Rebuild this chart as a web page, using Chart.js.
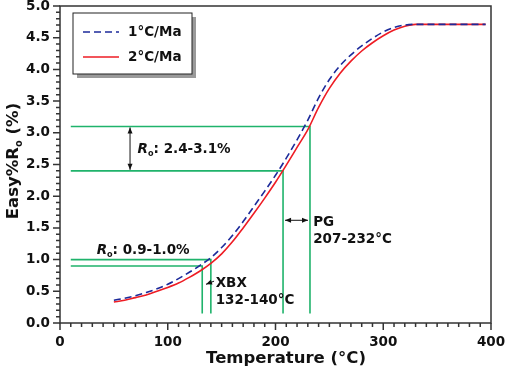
<!DOCTYPE html>
<html>
<head>
<meta charset="utf-8">
<script src="https://cdn.jsdelivr.net/npm/chart.js@4.4.0/dist/chart.umd.min.js"></script>
<title>Easy%Ro</title>
<style>
  html, body { margin: 0; padding: 0; background: #fff; }
</style>
</head>
<body>
<canvas id="myChart" width="505" height="371"></canvas>
<script>
// temperature (°C) and Easy%Ro for the two heating rates
const temps = [50,60,70,80,90,100,110,120,130,140,150,160,170,180,190,200,210,220,230,240,250,260,270,280,290,300,310,320,330,340,350,360,370,380,390,395];
const ro1 = [0.36,0.39,0.43,0.48,0.54,0.61,0.70,0.80,0.91,1.03,1.19,1.38,1.60,1.84,2.08,2.33,2.60,2.89,3.20,3.55,3.84,4.06,4.23,4.37,4.49,4.59,4.66,4.70,4.71,4.71,4.71,4.71,4.71,4.71,4.71,4.71];
const ro2 = [0.33,0.36,0.40,0.44,0.50,0.56,0.63,0.72,0.82,0.94,1.09,1.28,1.50,1.73,1.97,2.22,2.49,2.77,3.05,3.40,3.70,3.94,4.13,4.29,4.42,4.53,4.62,4.68,4.71,4.71,4.71,4.71,4.71,4.71,4.71,4.71];

// green guide lines: Ro level -> temperature cut
const roLevels = [3.1, 2.4, 1.0, 0.9];
const tempCuts = [232, 207, 140, 132];
const guideStart = 10;
const guideBottom = 0.15;

const seriesNames = ['1°C/Ma', '2°C/Ma'];

const FONT = '"DejaVu Sans"';
const GREEN = '#1fb36b';
const BLUE = '#1c2a9a';
const RED = '#ee1c24';

const datasets = [];
datasets.push({
  label: seriesNames[0],
  data: temps.map((t, i) => ({x: t, y: ro1[i]})),
  borderColor: BLUE, borderWidth: 1.6, borderDash: [7, 4],
  pointRadius: 0, cubicInterpolationMode: 'monotone', order: 1
});
datasets.push({
  label: seriesNames[1],
  data: temps.map((t, i) => ({x: t, y: ro2[i]})),
  borderColor: RED, borderWidth: 1.6,
  pointRadius: 0, cubicInterpolationMode: 'monotone', order: 2
});
for (let i = 0; i < roLevels.length; i++) {
  datasets.push({
    label: 'guide' + i,
    data: [{x: guideStart, y: roLevels[i]}, {x: tempCuts[i], y: roLevels[i]}, {x: tempCuts[i], y: guideBottom}],
    borderColor: GREEN, borderWidth: 1.6, pointRadius: 0, tension: 0, order: 3
  });
}

function arrowHead(ctx, x, y, ang) {
  ctx.beginPath();
  ctx.moveTo(x, y);
  ctx.lineTo(x - 6 * Math.cos(ang) + 2.5 * Math.sin(ang), y - 6 * Math.sin(ang) - 2.5 * Math.cos(ang));
  ctx.lineTo(x - 6 * Math.cos(ang) - 2.5 * Math.sin(ang), y - 6 * Math.sin(ang) + 2.5 * Math.cos(ang));
  ctx.closePath();
  ctx.fill();
}

function drawRo(ctx, x0, y0, rest, size, italic) {
  ctx.font = (italic ? 'italic ' : '') + 'bold ' + size + 'px ' + FONT;
  ctx.fillText('R', x0, y0);
  let w = ctx.measureText('R').width;
  ctx.font = 'bold ' + (size * 0.6) + 'px ' + FONT;
  ctx.fillText('o', x0 + w, y0 + size * 0.32);
  w += ctx.measureText('o').width;
  ctx.font = 'bold ' + size + 'px ' + FONT;
  ctx.fillText(rest, x0 + w, y0);
  return w + ctx.measureText(rest).width;
}

const deco = {
  id: 'deco',
  afterDraw(chart) {
    const {ctx, chartArea: a, scales: {x, y}} = chart;
    ctx.save();
    // frame + ticks
    ctx.strokeStyle = '#333';
    ctx.lineWidth = 1.5;
    ctx.strokeRect(a.left, a.top, a.right - a.left, a.bottom - a.top);
    ctx.beginPath();
    for (let t = 0; t <= 400; t += 10) {
      const p = x.getPixelForValue(t);
      const len = t % 100 === 0 ? 7 : 4;
      ctx.moveTo(p, a.bottom); ctx.lineTo(p, a.bottom + len);
    }
    for (let i = 0; i <= 50; i++) {
      const p = y.getPixelForValue(i / 10);
      const len = i % 5 === 0 ? 7 : 4;
      ctx.moveTo(a.left, p); ctx.lineTo(a.left - len, p);
    }
    ctx.stroke();

    // legend box
    const lx = a.left + 13, ly = a.top + 7, lw = 119, lh = 61;
    ctx.fillStyle = '#9a9a9a';
    ctx.fillRect(lx + 4, ly + 4, lw, lh);
    ctx.fillStyle = '#fff';
    ctx.fillRect(lx, ly, lw, lh);
    ctx.strokeStyle = '#222';
    ctx.lineWidth = 1;
    ctx.strokeRect(lx, ly, lw, lh);
    ctx.lineWidth = 1.6;
    ctx.setLineDash([7, 4]);
    ctx.strokeStyle = BLUE;
    ctx.beginPath(); ctx.moveTo(lx + 10, ly + 19); ctx.lineTo(lx + 46, ly + 19); ctx.stroke();
    ctx.setLineDash([]);
    ctx.strokeStyle = RED;
    ctx.beginPath(); ctx.moveTo(lx + 10, ly + 44); ctx.lineTo(lx + 46, ly + 44); ctx.stroke();
    ctx.fillStyle = '#111';
    ctx.textBaseline = 'middle';
    ctx.textAlign = 'left';
    ctx.font = 'bold 13.5px ' + FONT;
    ctx.fillText(seriesNames[0], lx + 55, ly + 19);
    ctx.fillText(seriesNames[1], lx + 55, ly + 44);

    // arrows
    ctx.strokeStyle = '#111';
    ctx.fillStyle = '#111';
    ctx.lineWidth = 1;
    const ax = x.getPixelForValue(65);
    const ay1 = y.getPixelForValue(3.1) + 1, ay2 = y.getPixelForValue(2.4) - 1;
    ctx.beginPath(); ctx.moveTo(ax, ay1); ctx.lineTo(ax, ay2); ctx.stroke();
    arrowHead(ctx, ax, ay1, -Math.PI / 2);
    arrowHead(ctx, ax, ay2, Math.PI / 2);
    const hy = y.getPixelForValue(1.62);
    const hx1 = x.getPixelForValue(207) + 2, hx2 = x.getPixelForValue(232) - 2;
    ctx.beginPath(); ctx.moveTo(hx1, hy); ctx.lineTo(hx2, hy); ctx.stroke();
    arrowHead(ctx, hx1, hy, Math.PI);
    arrowHead(ctx, hx2, hy, 0);
    // XBX leader
    const lx1 = x.getPixelForValue(135.5), ly1 = y.getPixelForValue(0.61);
    const lx2 = x.getPixelForValue(143), ly2 = y.getPixelForValue(0.66);
    ctx.beginPath(); ctx.moveTo(lx1, ly1); ctx.lineTo(lx2, ly2); ctx.stroke();
    arrowHead(ctx, lx1, ly1, Math.atan2(ly1 - ly2, lx1 - lx2));

    // annotation text
    ctx.fillStyle = '#111';
    drawRo(ctx, x.getPixelForValue(72), y.getPixelForValue(2.73), ': 2.4-3.1%', 13.5, true);
    drawRo(ctx, x.getPixelForValue(34), y.getPixelForValue(1.15), ': 0.9-1.0%', 13.5, true);
    ctx.font = 'bold 13.5px ' + FONT;
    ctx.fillText('PG', x.getPixelForValue(235), y.getPixelForValue(1.59));
    ctx.fillText('207-232°C', x.getPixelForValue(235), y.getPixelForValue(1.31));
    ctx.fillText('XBX', x.getPixelForValue(144.5), y.getPixelForValue(0.63));
    ctx.fillText('132-140°C', x.getPixelForValue(144.5), y.getPixelForValue(0.36));

    // axis titles
    ctx.font = 'bold 16.5px ' + FONT;
    ctx.textAlign = 'center';
    ctx.fillText('Temperature (°C)', 286, 359);
    ctx.save();
    ctx.translate(14, 161);
    ctx.rotate(-Math.PI / 2);
    ctx.textAlign = 'left';
    ctx.font = 'bold 16.5px ' + FONT;
    const wPre = ctx.measureText('Easy%').width;
    let total = wPre + ctx.measureText('R').width;
    ctx.font = 'bold ' + (16.5 * 0.6) + 'px ' + FONT;
    total += ctx.measureText('o').width;
    ctx.font = 'bold 16.5px ' + FONT;
    total += ctx.measureText(' (%)').width;
    const sx = -total / 2;
    ctx.fillText('Easy%', sx, 0);
    drawRo(ctx, sx + wPre, 0, ' (%)', 16.5, false);
    ctx.restore();

    ctx.restore();
  }
};

Chart.defaults.font.family = FONT;
Chart.defaults.color = '#111';

const ctx = document.getElementById('myChart');
new Chart(ctx, {
  type: 'line',
  data: { datasets: datasets },
  options: {
    responsive: false,
    animation: false,
    devicePixelRatio: 1,
    layout: { padding: { top: 6, right: 14, left: 0, bottom: 0 } },
    plugins: { legend: { display: false }, tooltip: { enabled: false } },
    scales: {
      x: {
        type: 'linear', min: 0, max: 400,
        grid: { display: false, drawTicks: false },
        border: { display: false },
        ticks: { stepSize: 100, padding: 11, font: { size: 13.5, weight: 'bold' }, color: '#111' },
        afterFit: (s) => { s.height = 48; s.paddingLeft = 0; s.paddingRight = 0; }
      },
      y: {
        min: 0, max: 5,
        grid: { display: false, drawTicks: false },
        border: { display: false },
        ticks: { stepSize: 0.5, padding: 10, font: { size: 13.5, weight: 'bold' }, color: '#111',
                 callback: (v) => v.toFixed(1) },
        afterFit: (s) => { s.width = 60; s.paddingTop = 0; s.paddingBottom = 0; }
      }
    }
  },
  plugins: [deco]
});
</script>
</body>
</html>
